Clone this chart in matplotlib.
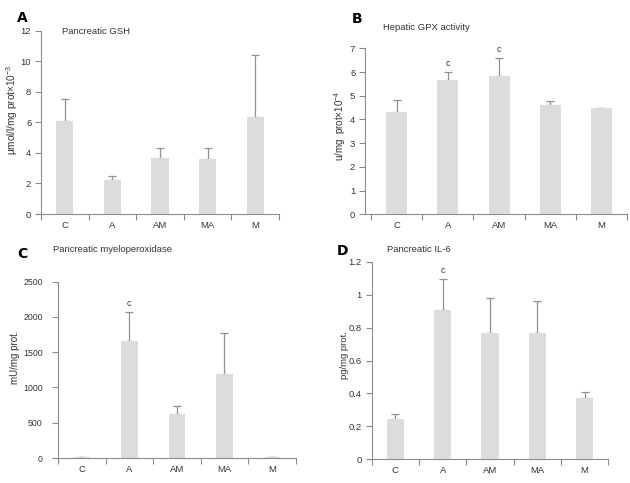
import numpy as np
import matplotlib
matplotlib.use('Agg')
import matplotlib.pyplot as plt

plt.rcParams['font.family'] = ['Liberation Sans', 'DejaVu Sans']
plt.rcParams['mathtext.fontset'] = 'custom'
plt.rcParams['mathtext.rm'] = 'Liberation Sans'
plt.rcParams['mathtext.it'] = 'Liberation Sans:italic'

# Datos
grupos = ['C', 'A', 'AM', 'MA', 'M']

gsh_media = [6.1, 2.2, 3.65, 3.6, 6.35]
gsh_sup = [7.55, 2.5, 4.3, 4.35, 10.4]
gsh_marca = ['', '', '', '', '']

gpx_media = [4.3, 5.65, 5.85, 4.62, 4.5]
gpx_sup = [4.8, 6.0, 6.6, 4.78, 4.5]
gpx_marca = ['', 'c', 'c', '', '']

mpo_media = [10, 1660, 630, 1195, 10]
mpo_sup = [10, 2070, 740, 1770, 10]
mpo_marca = ['', 'c', '', '', '']

il6_media = [0.245, 0.905, 0.77, 0.77, 0.37]
il6_sup = [0.275, 1.095, 0.98, 0.96, 0.41]
il6_marca = ['', 'c', '', '', '']

GRIS_BARRA = '#dcdcdc'
GRIS_EJE = '#8c8c8c'
W, H = 630, 483


def caja(izq, der, abajo, arriba):
    # pixeles -> fraccion de figura
    return [izq / W, 1 - abajo / H, (der - izq) / W, (abajo - arriba) / H]


def panel(fig, pos, media, sup, marca, ylim, yticks, ylabel, lab_px, lab_y=0.5,
          lab_fs=7, tick_fs=6.8, ypad=3, ancho=0.37, xmin=-0.6, mover_eje=True):
    ax = fig.add_axes(pos)
    x = np.arange(len(grupos))
    err = np.array(sup) - np.array(media)
    ax.bar(x, media, width=ancho, color=GRIS_BARRA, zorder=2)
    ax.errorbar(x, media, yerr=[np.zeros_like(err), err], fmt='none',
                ecolor='#909090', elinewidth=0.9, capsize=3.2, capthick=0.9,
                zorder=1)
    for xi, s, m in zip(x, sup, marca):
        if m:
            ax.annotate(m, (xi, s), xytext=(0, 3), textcoords='offset points',
                        ha='center', va='bottom', fontsize=6.5, color='#333333')
    ax.set_xlim(xmin, 4.5)
    ax.set_ylim(*ylim)
    ax.set_yticks(yticks)
    ax.set_yticklabels([f'{t:g}' for t in yticks])
    ax.set_xticks(np.arange(-0.5, 5, 1))
    ax.set_xticklabels([])
    ax.set_xticks(x, minor=True)
    ax.set_xticklabels(grupos, minor=True)
    ax.tick_params(axis='x', which='minor', length=0, pad=5, labelsize=6.8)
    ax.tick_params(axis='x', which='major', length=4, color=GRIS_EJE, width=0.8)
    ax.tick_params(axis='y', length=4, color=GRIS_EJE, width=0.8, pad=ypad,
                   labelsize=tick_fs)
    ax.tick_params(which='both', labelcolor='#333333')
    for lado in ['top', 'right']:
        ax.spines[lado].set_visible(False)
    for lado in ['left', 'bottom']:
        ax.spines[lado].set_color(GRIS_EJE)
        ax.spines[lado].set_linewidth(0.8)
    if mover_eje:
        ax.spines['left'].set_position(('data', -0.5))
    ax.set_ylabel(ylabel, fontsize=lab_fs, color='#333333')
    # borde derecho de la etiqueta en pixeles
    ax.yaxis.set_label_coords((lab_px - pos[0] * W) / (pos[2] * W), lab_y)
    return ax


fig = plt.figure(figsize=(6.3, 4.83), dpi=100)
fig.patch.set_facecolor('white')

# A
panel(fig, caja(41 - 0.1 * 47.6, 279, 214, 30.7), gsh_media, gsh_sup, gsh_marca,
      (0, 12), [0, 2, 4, 6, 8, 10, 12],
      'μmol/l/mg prot×10$^{-3}$', 20, lab_y=0.57, lab_fs=7.2, ancho=0.36)
# B
panel(fig, caja(365, 627, 214.3, 48.3), gpx_media, gpx_sup, gpx_marca,
      (0, 7), [0, 1, 2, 3, 4, 5, 6, 7],
      'u/mg  prot×10$^{-4}$', 348, lab_y=0.53, ancho=0.41, xmin=-0.62,
      mover_eje=False)
# C
panel(fig, caja(58 - 0.1 * 47.5, 295.7, 458, 281.7), mpo_media, mpo_sup, mpo_marca,
      (0, 2500), [0, 500, 1000, 1500, 2000, 2500],
      'mU/mg prot.', 20, lab_y=0.57, tick_fs=6.3, ypad=7, ancho=0.35)
# D
panel(fig, caja(371.7 - 0.1 * 47.3, 608.3, 459.3, 261.7), il6_media, il6_sup, il6_marca,
      (0, 1.2), [0, 0.2, 0.4, 0.6, 0.8, 1, 1.2],
      'pg/mg prot.', 349, lab_y=0.53, lab_fs=6.8, ancho=0.37)

# Titulos y letras
for xp, yp, txt in [(62, 31, 'Pancreatic GSH'), (383, 28, 'Hepatic GPX activity'),
                    (53, 250, 'Pancreatic myeloperoxidase'), (387, 249, 'Pancreatic IL-6')]:
    fig.text(xp / W, 1 - yp / H, txt, fontsize=6.8, color='#333333', va='center', ha='left')

for xp, yp, txt in [(17, 17.5, 'A'), (352, 19, 'B'), (17, 253.5, 'C'), (337, 251, 'D')]:
    fig.text(xp / W, 1 - yp / H, txt, fontsize=10, fontweight='bold', color='black',
             va='center', ha='left', family=['DejaVu Sans'])

plt.savefig('out.png', dpi=100)
